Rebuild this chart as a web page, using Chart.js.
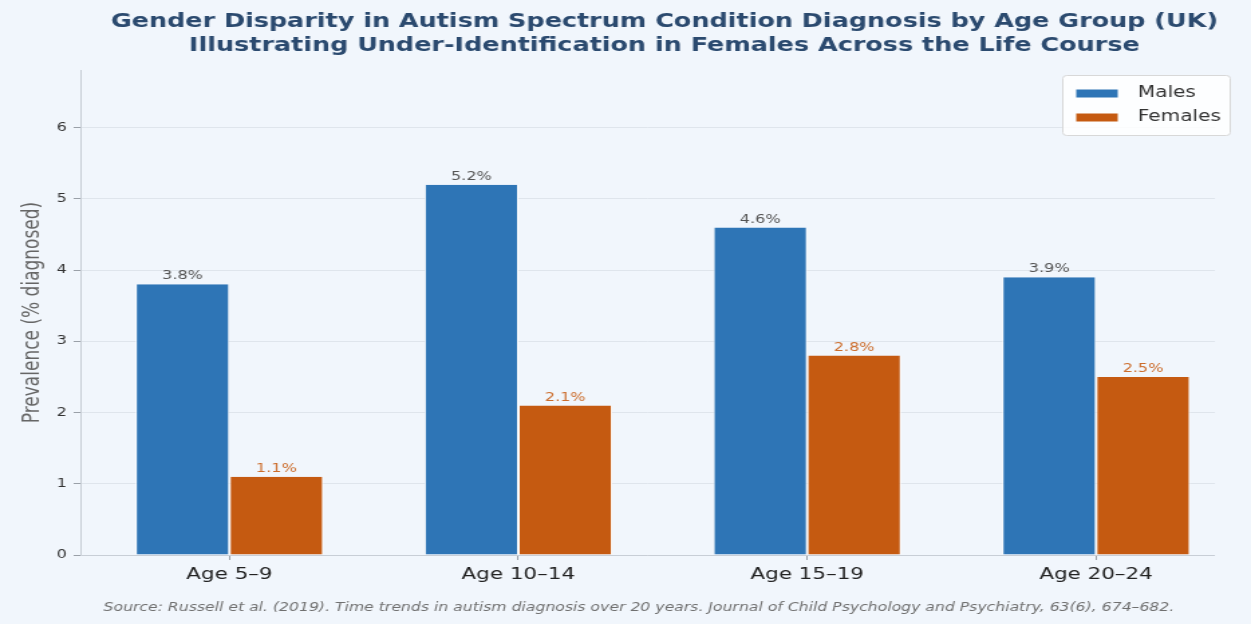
<!DOCTYPE html>
<html>
<head>
<meta charset="utf-8">
<script src="https://cdn.jsdelivr.net/npm/chart.js@4.4.1/dist/chart.umd.min.js"></script>
<style>
  html, body { margin: 0; padding: 0; background: #f1f6fc; overflow: hidden; }
  /* the reference is drawn narrow and stretched sideways, so do the same */
  #wrap { width: 934px; height: 624px; transform: scaleX(1.3394); transform-origin: 0 0; }
</style>
</head>
<body>
<div id="wrap"><canvas id="chart" width="934" height="624"></canvas></div>
<script>
const ageGroups = ["Age 5–9", "Age 10–14", "Age 15–19", "Age 20–24"];
const malesPct = [3.8, 5.2, 4.6, 3.9];
const femalesPct = [1.1, 2.1, 2.8, 2.5];
const yTicks = [0, 1, 2, 3, 4, 5, 6];

const titleLines = [
  "Gender Disparity in Autism Spectrum Condition Diagnosis by Age Group (UK)",
  "Illustrating Under-Identification in Females Across the Life Course",
];
const sourceText =
  "Source: Russell et al. (2019). Time trends in autism diagnosis over 20 years. Journal of Child Psychology and Psychiatry, 63(6), 674–682.";

const blue = "#2e75b6";
const orange = "#c55a11";

const decorPlugin = {
  id: "decor",
  beforeDraw(chart) {
    const ctx = chart.ctx;
    ctx.save();
    ctx.fillStyle = "#f1f6fc";
    ctx.fillRect(0, 0, chart.width, chart.height);
    ctx.restore();
  },
  afterDraw(chart) {
    const ctx = chart.ctx;
    const area = chart.chartArea;
    ctx.save();
    // title
    ctx.fillStyle = "#2b4a6f";
    ctx.font = "bold 19px 'DejaVu Sans'";
    ctx.textAlign = "center";
    ctx.textBaseline = "middle";
    ctx.fillText(titleLines[0], 496, 22);
    ctx.fillText(titleLines[1], 496, 46);

    // source
    ctx.fillStyle = "#707070";
    ctx.font = "italic 11.7px 'DejaVu Sans'";
    ctx.fillText(sourceText, 477, 608);

    // value labels
    chart.data.datasets.forEach((ds, i) => {
      const meta = chart.getDatasetMeta(i);
      ctx.fillStyle = i === 0 ? "#555555" : "#cc6d2c";
      ctx.font = "12px 'DejaVu Sans'";
      ctx.textBaseline = "bottom";
      meta.data.forEach((bar, j) => {
        ctx.fillText(ds.data[j].y.toFixed(1) + "%", bar.x, bar.y - 2);
      });
    });

    // legend
    const lx = 793.5, ly = 75.5, lw = 125, lh = 60;
    ctx.fillStyle = "rgba(255,255,255,0.85)";
    ctx.strokeStyle = "#d8d8d8";
    ctx.lineWidth = 1;
    ctx.beginPath();
    ctx.roundRect(lx, ly, lw, lh, 3);
    ctx.fill();
    ctx.stroke();
    const items = [["Males", blue], ["Females", orange]];
    ctx.font = "15px 'DejaVu Sans'";
    ctx.textAlign = "left";
    ctx.textBaseline = "middle";
    items.forEach((it, k) => {
      const y = ly + 18 + k * 24;
      ctx.fillStyle = it[1];
      ctx.fillRect(lx + 10, y - 4, 31, 8);
      ctx.fillStyle = "#333333";
      ctx.fillText(it[0], lx + 56, y);
    });

    // spines
    ctx.strokeStyle = "#c8ced6";
    ctx.lineWidth = 1;
    ctx.beginPath();
    ctx.moveTo(area.left + 0.5, area.top);
    ctx.lineTo(area.left + 0.5, area.bottom + 0.5);
    ctx.lineTo(area.right, area.bottom + 0.5);
    ctx.stroke();
    ctx.restore();
  },
};

new Chart(document.getElementById("chart"), {
  type: "bar",
  data: {
    datasets: [
      {
        label: "Males",
        data: malesPct.map((v, i) => ({ x: i, y: v })),
        backgroundColor: blue,
        borderColor: "#ffffff",
        borderWidth: { left: 1, right: 1 },
        borderSkipped: "bottom",
      },
      {
        label: "Females",
        data: femalesPct.map((v, i) => ({ x: i, y: v })),
        backgroundColor: orange,
        borderColor: "#ffffff",
        borderWidth: { left: 1, right: 1 },
        borderSkipped: "bottom",
      },
    ],
  },
  plugins: [decorPlugin],
  options: {
    responsive: false,
    animation: false,
    devicePixelRatio: 1,
    layout: { padding: { top: 70, right: 27, bottom: 29, left: 0 } },
    categoryPercentage: 0.65,
    barPercentage: 1.0,
    plugins: {
      legend: { display: false },
      title: { display: false },
      tooltip: { enabled: false },
    },
    scales: {
      x: {
        type: "linear",
        min: -0.516,
        max: 3.411,
        offset: false,
        afterBuildTicks: (scale) => {
          scale.ticks = ageGroups.map((_, i) => ({ value: i }));
        },
        afterFit: (scale) => {
          scale.height = 40;
        },
        grid: {
          display: true,
          offset: false,
          drawOnChartArea: false,
          drawTicks: true,
          tickLength: 5,
          color: "#9aa0a8",
        },
        border: { display: false },
        ticks: {
          callback: (v) => ageGroups[v],
          color: "#222222",
          font: { family: "DejaVu Sans", size: 16 },
          padding: 5,
          autoSkip: false,
          maxRotation: 0,
        },
      },
      y: {
        min: 0,
        max: 6.81,
        afterBuildTicks: (scale) => {
          scale.ticks = yTicks.map((v) => ({ value: v }));
        },
        afterFit: (scale) => {
          scale.width = 60;
        },
        grid: {
          color: "#dfe5ec",
          tickColor: "#9aa0a8",
          tickLength: 5,
        },
        border: { display: false },
        ticks: {
          color: "#333333",
          font: { family: "DejaVu Sans", size: 12 },
          padding: 5,
        },
        title: {
          display: true,
          text: "Prevalence (% diagnosed)",
          color: "#666666",
          font: { family: "DejaVu Sans", size: 17 },
          padding: { top: 14, bottom: 0 },
        },
      },
    },
  },
});
</script>
</body>
</html>
